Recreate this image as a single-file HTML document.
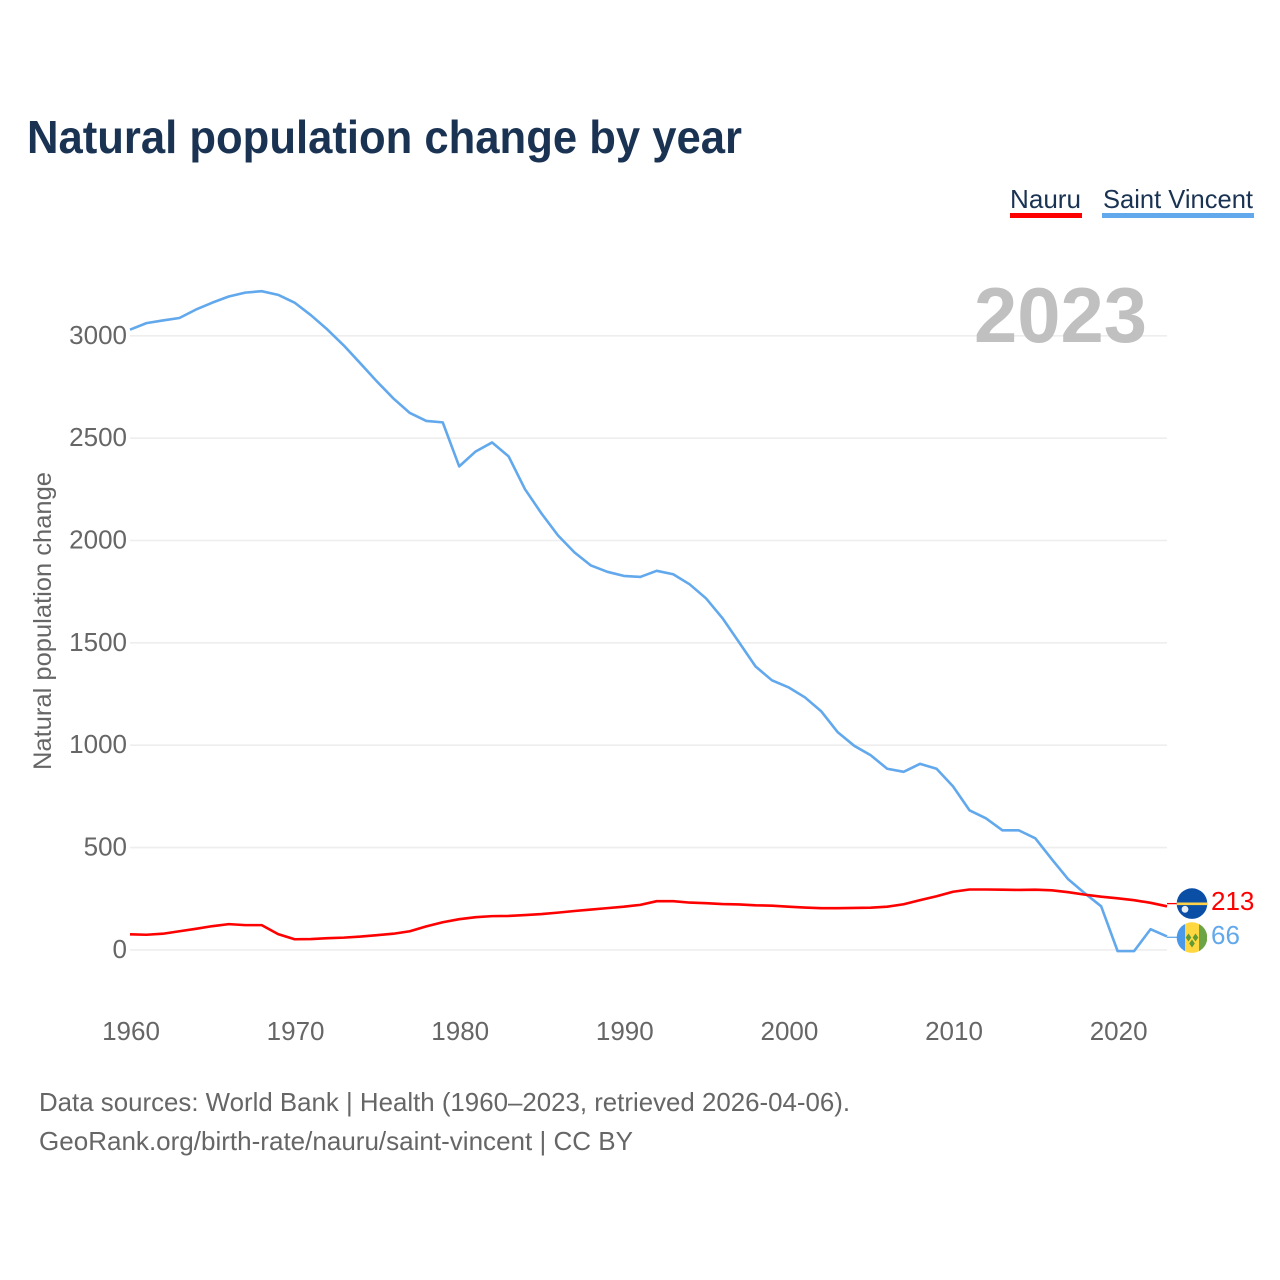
<!DOCTYPE html>
<html lang="en">
<head>
<meta charset="utf-8">
<title>Natural population change by year</title>
<style>
html,body{margin:0;padding:0;background:#fff;}
svg{display:block;font-family:"Liberation Sans",Arial,sans-serif;}
.tick{fill:#666;font-size:26px;}
</style>
</head>
<body>
<svg id="chart" xmlns="http://www.w3.org/2000/svg" width="1280" height="1280" viewBox="0 0 1280 1280">
  <defs>
    <clipPath id="clip-nauru"><circle cx="1192" cy="903.6" r="15.3"/></clipPath>
    <clipPath id="clip-vincent"><circle cx="1192" cy="937.6" r="15.3"/></clipPath>
  </defs>
  <rect width="1280" height="1280" fill="#fff"/>
  <text x="27" y="153" font-size="46" font-weight="700" fill="#1a3353" textLength="715" lengthAdjust="spacingAndGlyphs">Natural population change by year</text>

  <g>
    <text x="1010" y="208" font-size="26" fill="#1a3353" textLength="71" lengthAdjust="spacingAndGlyphs">Nauru</text>
    <rect x="1010" y="213" width="72" height="5" fill="#ff0000"/>
  </g>
  <g>
    <text x="1103" y="208" font-size="26" fill="#1a3353" textLength="150" lengthAdjust="spacingAndGlyphs">Saint Vincent</text>
    <rect x="1102" y="213" width="152" height="5" fill="#62a8ec"/>
  </g>

  <g id="grid"></g>
  <text x="974" y="342" font-size="78" font-weight="700" fill="#bdbdbd" fill-opacity="0.95" textLength="173" lengthAdjust="spacingAndGlyphs">2023</text>
  <g id="y-ticks"></g>
  <g id="x-ticks"></g>
  <text transform="translate(51 621) rotate(-90)" text-anchor="middle" font-size="25" fill="#666" textLength="298" lengthAdjust="spacingAndGlyphs">Natural population change</text>

  <g id="series"></g>

  <g clip-path="url(#clip-nauru)">
    <rect x="1176" y="888" width="32" height="32" fill="#0a4ea6"/>
    <rect x="1176" y="902.500" width="32" height="2.600" fill="#ffd24a"/>
    <circle cx="1185" cy="909.300" r="3.400" fill="#e8eef5"/>
  </g>
  <g clip-path="url(#clip-vincent)">
    <rect x="1176" y="922" width="9" height="32" fill="#4a98ea"/>
    <rect x="1185" y="922" width="14" height="32" fill="#ffd740"/>
    <rect x="1199" y="922" width="8" height="32" fill="#6da544"/>
    <path d="M1188.500 933.500l2.800 4-2.800 4-2.800-4zM1195.500 933.500l2.800 4-2.800 4-2.800-4zM1192 939.500l2.800 4-2.800 4-2.800-4z" fill="#5f9a34"/>
  </g>
  <text id="label-nauru" x="1211" y="910" font-size="26" fill="#ff0000"></text>
  <text id="label-vincent" x="1211" y="944" font-size="26" fill="#62a8ec"></text>

  <text x="39" y="1111" font-size="26" fill="#666" textLength="811" lengthAdjust="spacingAndGlyphs">Data sources: World Bank | Health (1960–2023, retrieved 2026-04-06).</text>
  <text x="39" y="1150" font-size="26" fill="#666" textLength="594" lengthAdjust="spacingAndGlyphs">GeoRank.org/birth-rate/nauru/saint-vincent | CC BY</text>
</svg>
<script>
const startYear = 1960;
const nauruValues = [76,74,79,91,103,116,126,121,121,77,52,53,57,60,65,72,79,91,115,135,150,160,165,166,170,175,182,190,197,204,211,220,238,238,231,228,224,222,218,216,211,207,204,204,205,206,211,223,243,262,284,295,295,294,293,294,291,282,270,260,252,243,230,213];
const vincentValues = [3030,3062,3075,3087,3128,3162,3192,3211,3218,3200,3162,3100,3030,2952,2865,2777,2694,2623,2584,2577,2362,2435,2479,2411,2250,2132,2025,1942,1878,1847,1827,1822,1852,1835,1786,1717,1620,1503,1385,1317,1283,1234,1165,1063,997,951,885,870,909,885,799,682,643,584,584,545,443,345,277,213,-6,-6,101,66];
const yTickValues = [0,500,1000,1500,2000,2500,3000];
const xTickValues = [1960,1970,1980,1990,2000,2010,2020];

const NS = 'http://www.w3.org/2000/svg';
function xScale(year) { return 130 + (year - 1960) * (1167 - 130) / 63; }
function yScale(value) { return 949.9 - value * 0.2047; }
function make(tag, attrs, parent) {
  const el = document.createElementNS(NS, tag);
  for (const k in attrs) el.setAttribute(k, attrs[k]);
  parent.appendChild(el);
  return el;
}

const grid = document.getElementById('grid');
const yTicks = document.getElementById('y-ticks');
yTickValues.forEach(function (v) {
  const line = make('line', {x1: 130, x2: 1167, y1: yScale(v), y2: yScale(v), stroke: '#eeeeee', 'stroke-width': 1.6}, grid);
  
  
  const t = make('text', {x: 127, y: yScale(v) + 8, 'text-anchor': 'end', class: 'tick'}, yTicks);
  
  
  t.textContent = v;
});

const xTicks = document.getElementById('x-ticks');
xTickValues.forEach(function (v) {
  const t = make('text', {x: xScale(v) + 1, y: 1040, 'text-anchor': 'middle', class: 'tick'}, xTicks);
  
  
  t.textContent = v;
});

function linePoints(values) {
  return values.map(function (v, i) {
    return xScale(startYear + i).toFixed(2) + ',' + yScale(v).toFixed(2);
  }).join(' ');
}

const series = document.getElementById('series');
const vincentLine = make('polyline', {points: linePoints(vincentValues), fill: 'none', stroke: '#62a8ec', 'stroke-width': 2.6, 'stroke-linejoin': 'round'}, series);


const nauruLine = make('polyline', {points: linePoints(nauruValues), fill: 'none', stroke: '#ff0000', 'stroke-width': 2.6, 'stroke-linejoin': 'round'}, series);



const leaderNauru = make('polyline', {points: '1167,903.6 1177,903.6', fill: 'none', stroke: '#ff0000', 'stroke-width': 1.3}, series);


const leaderVincent = make('polyline', {points: '1167,937.3 1177,937.3', fill: 'none', stroke: '#62a8ec', 'stroke-width': 1.3}, series);



document.getElementById('label-nauru').textContent = nauruValues[nauruValues.length - 1];
document.getElementById('label-vincent').textContent = vincentValues[vincentValues.length - 1];
</script>
</body>
</html>
